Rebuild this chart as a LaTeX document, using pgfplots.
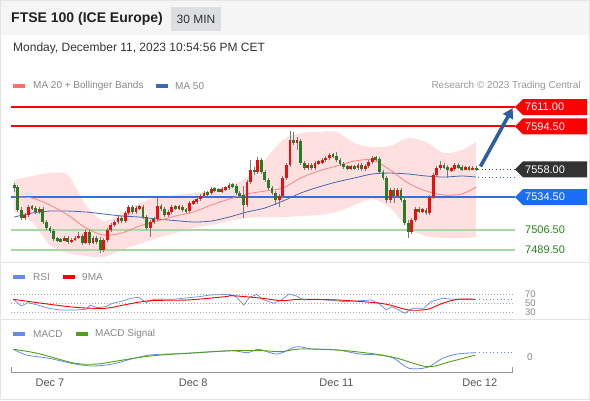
\documentclass[border=0pt]{standalone}
\usepackage{fontspec}
\setmainfont{Liberation Sans}
\usepackage{pgfplots}
\usepackage{pgfplotstable}
\pgfplotsset{compat=1.18}
\usepgfplotslibrary{fillbetween}
\usetikzlibrary{arrows.meta}

\definecolor{hdr}{RGB}{245,245,245}
\definecolor{minbox}{RGB}{221,222,225}
\definecolor{sep}{RGB}{228,228,228}
\definecolor{lvred}{RGB}{255,0,0}
\definecolor{lvblue}{RGB}{50,110,230}
\definecolor{lvgreen}{RGB}{170,215,165}
\definecolor{txtgreen}{RGB}{40,130,30}
\definecolor{tagdark}{RGB}{51,51,51}
\definecolor{tagblue}{RGB}{25,110,245}
\definecolor{bandfill}{RGB}{255,224,224}
\definecolor{ma20}{RGB}{255,130,130}
\definecolor{ma50}{RGB}{65,105,175}
\definecolor{cred}{RGB}{235,15,15}
\definecolor{cgreen}{RGB}{40,125,35}
\definecolor{wick}{RGB}{120,120,120}
\definecolor{arrowblue}{RGB}{45,95,160}
\definecolor{rsiblue}{RGB}{100,140,230}
\definecolor{sigreen}{RGB}{80,160,30}
\definecolor{lgray}{RGB}{136,136,136}
\definecolor{tgray}{RGB}{85,85,85}

\pgfplotstableread{
x o h l c d
-10 7543.9 7546.4 7538.8 7543.0 0
-9 7543.0 7544.7 7521.8 7523.5 0
-8 7523.5 7526.0 7515.0 7516.7 0
-7 7516.7 7520.9 7515.0 7519.2 1
-6 7519.2 7527.7 7517.5 7526.0 1
-5 7526.0 7527.7 7523.5 7525.2 0
-4 7525.2 7526.9 7520.1 7521.8 0
-3 7521.8 7526.0 7520.1 7524.3 1
-2 7524.3 7526.0 7511.6 7513.3 0
-1 7513.3 7515.0 7506.5 7508.2 0
0 7508.2 7509.9 7503.9 7505.6 0
1 7505.6 7507.3 7497.1 7498.8 0
2 7498.8 7500.5 7496.3 7498.0 0
3 7498.0 7499.7 7496.3 7497.5 0
4 7497.5 7501.4 7497.1 7499.7 1
5 7499.7 7501.4 7494.6 7496.3 0
6 7496.3 7499.7 7495.4 7498.0 1
7 7498.0 7501.4 7497.1 7499.7 1
8 7499.7 7504.8 7498.8 7501.4 1
9 7501.4 7503.1 7493.7 7495.4 0
10 7495.4 7506.5 7494.6 7504.8 1
11 7504.8 7506.5 7493.7 7495.4 0
12 7495.4 7501.4 7494.6 7499.7 1
13 7499.7 7501.4 7494.6 7496.3 0
14 7498.0 7500.5 7486.9 7489.5 0
15 7489.5 7499.7 7487.8 7498.0 1
16 7498.0 7508.2 7496.3 7506.5 1
17 7506.5 7512.4 7504.8 7510.7 1
18 7510.7 7515.0 7509.0 7513.3 1
19 7513.3 7518.4 7511.6 7516.7 1
20 7516.7 7518.4 7512.4 7514.1 0
21 7514.1 7522.6 7512.4 7520.9 1
22 7520.9 7527.7 7519.2 7526.0 1
23 7526.0 7527.7 7520.1 7521.8 0
24 7521.8 7526.9 7520.1 7525.2 1
25 7525.2 7527.7 7523.5 7526.0 1
26 7526.0 7527.7 7515.8 7517.5 0
27 7517.5 7519.2 7506.5 7508.2 0
28 7508.2 7515.0 7500.5 7513.3 1
29 7513.3 7517.5 7511.6 7515.8 1
30 7515.8 7533.7 7514.1 7526.9 1
31 7526.9 7528.6 7522.6 7524.3 0
32 7524.3 7526.0 7517.5 7519.2 0
33 7519.2 7523.5 7517.5 7521.8 1
34 7521.8 7527.7 7520.1 7526.0 1
35 7526.0 7527.7 7523.5 7525.2 0
36 7525.2 7527.7 7523.5 7526.0 1
37 7526.0 7527.7 7521.8 7523.5 0
38 7523.5 7525.2 7520.9 7522.6 0
39 7522.6 7531.1 7520.9 7529.4 1
40 7529.4 7532.0 7527.7 7530.3 1
41 7530.3 7534.5 7528.6 7532.8 1
42 7532.8 7537.1 7531.1 7535.4 1
43 7535.4 7539.6 7533.7 7537.9 1
44 7537.9 7539.6 7535.4 7537.5 0
45 7537.9 7543.0 7536.2 7541.3 1
46 7541.3 7543.0 7538.8 7540.5 0
47 7540.5 7542.2 7538.8 7540.0 0
48 7539.6 7543.0 7537.9 7541.3 1
49 7541.3 7543.9 7539.6 7542.2 1
50 7542.2 7546.4 7540.5 7544.7 1
51 7544.7 7546.4 7542.2 7543.9 0
52 7543.9 7545.6 7536.2 7537.9 0
53 7537.9 7539.6 7534.5 7536.2 0
54 7536.2 7543.9 7516.7 7527.7 0
55 7527.7 7549.0 7526.0 7547.3 1
56 7547.3 7566.0 7545.6 7557.5 1
57 7557.5 7560.0 7553.2 7555.8 0
58 7555.8 7568.5 7554.1 7566.0 1
59 7566.0 7567.7 7554.1 7555.8 0
60 7555.8 7557.5 7547.3 7549.0 0
61 7549.0 7550.7 7540.5 7542.2 0
62 7542.2 7543.9 7536.2 7537.9 0
63 7537.9 7539.6 7527.7 7532.0 0
64 7532.0 7537.1 7526.0 7535.4 1
65 7535.4 7552.4 7533.7 7550.7 1
66 7550.7 7563.4 7549.0 7561.7 1
67 7561.7 7590.6 7560.0 7583.0 1
68 7583.0 7589.8 7578.7 7580.4 0
69 7581.3 7585.5 7574.5 7582.1 1
70 7582.1 7583.8 7561.7 7563.4 0
71 7563.4 7565.1 7557.5 7559.2 0
72 7559.2 7563.4 7557.5 7561.7 1
73 7561.7 7563.4 7557.5 7559.2 0
74 7559.2 7565.1 7557.5 7563.4 1
75 7563.4 7566.0 7561.7 7564.3 1
76 7564.3 7567.7 7562.6 7566.0 1
77 7566.0 7569.4 7564.3 7567.7 1
78 7567.7 7571.9 7566.0 7570.2 1
79 7570.2 7571.9 7567.7 7569.8 0
80 7569.8 7572.8 7564.3 7566.0 0
81 7566.0 7567.7 7560.9 7562.6 0
82 7562.6 7564.3 7558.3 7560.0 0
83 7560.0 7561.7 7557.5 7559.2 0
84 7559.2 7561.7 7557.5 7560.0 1
85 7560.0 7561.7 7557.5 7559.6 0
86 7559.2 7563.4 7557.5 7561.7 1
87 7561.7 7563.4 7556.6 7558.3 0
88 7558.3 7562.6 7556.6 7560.9 1
89 7560.9 7566.0 7559.2 7564.3 1
90 7564.3 7569.4 7562.6 7567.7 1
91 7567.7 7569.4 7565.1 7566.8 0
92 7566.8 7568.5 7554.1 7555.8 0
93 7555.8 7557.5 7549.0 7550.7 0
94 7550.7 7552.4 7529.4 7532.0 0
95 7532.0 7542.2 7529.4 7540.5 1
96 7540.5 7542.2 7529.4 7535.4 0
97 7535.4 7542.2 7533.7 7540.5 1
98 7540.5 7542.2 7530.3 7532.0 0
99 7532.0 7534.5 7510.7 7512.4 0
100 7512.4 7515.0 7499.7 7504.8 0
101 7504.8 7516.7 7503.1 7515.0 1
102 7515.0 7526.0 7513.3 7524.3 1
103 7524.3 7526.0 7520.9 7522.6 0
104 7522.6 7525.2 7520.9 7523.5 1
105 7523.5 7525.2 7519.2 7520.9 0
106 7520.9 7536.2 7519.2 7534.5 1
107 7534.5 7554.9 7532.8 7553.2 1
108 7553.2 7560.9 7551.5 7559.2 1
109 7559.2 7565.1 7557.5 7561.7 1
110 7561.7 7563.4 7558.3 7560.0 0
111 7560.0 7561.7 7550.7 7557.5 0
112 7557.5 7560.0 7555.8 7558.3 1
113 7558.3 7563.4 7556.6 7561.7 1
114 7561.7 7563.4 7558.3 7560.0 0
115 7560.0 7561.7 7556.6 7558.3 0
116 7558.3 7560.9 7557.5 7559.2 1
117 7559.2 7560.9 7556.6 7558.3 0
118 7558.3 7560.9 7557.5 7558.7 1
119 7558.7 7560.9 7556.6 7558.0 0
}\candles

\pgfplotstableread{
x up lo ma20 ma50
-10 7549.0 7521.8 7534.5 7517.5
-5 7552.4 7513.3 7533.7 7520.9
0 7554.9 7493.7 7527.7 7522.6
5 7553.2 7486.9 7519.2 7522.6
10 7527.7 7484.4 7508.2 7521.8
15 7514.1 7483.5 7502.2 7520.1
20 7520.9 7489.5 7503.9 7518.4
25 7529.4 7494.6 7509.9 7517.5
30 7534.5 7499.7 7514.1 7515.8
35 7536.2 7503.9 7518.4 7514.5
40 7537.9 7508.2 7521.8 7513.3
45 7539.6 7510.7 7527.7 7514.1
50 7544.7 7514.1 7532.8 7517.5
55 7550.7 7516.7 7537.1 7521.8
60 7566.0 7517.5 7539.6 7525.2
65 7583.0 7517.5 7542.2 7531.1
70 7588.9 7518.4 7550.7 7537.9
75 7589.8 7519.2 7556.6 7543.0
80 7589.8 7521.8 7560.9 7547.3
85 7580.4 7527.7 7565.1 7550.7
90 7577.0 7532.8 7566.0 7554.1
95 7577.9 7525.2 7557.5 7554.9
100 7584.7 7508.2 7546.4 7554.1
105 7581.3 7501.4 7539.6 7552.4
110 7571.9 7499.7 7536.2 7551.5
115 7574.5 7499.7 7537.1 7552.4
119 7581.3 7500.5 7543.0 7551.5
}\bands

\pgfplotstableread{
x rsi
-10.2 58.4
-8.1 43.8
-6.1 51
-3.5 46
-0.3 38.7
2.8 35
7 35
10.2 36.6
11.2 46
13.3 40
15.4 42.2
17.5 49.7
20.6 55.4
22.7 60.6
24.8 62.8
26.9 51
29 58.4
34.2 58.4
41.6 64.1
44.7 67.8
49.9 69.3
52 64.1
54.1 46
55.7 62.8
57.8 69.3
59.3 58.4
62.5 49.7
64.6 56.9
66.7 70
68.8 65.6
70.9 56.9
75.1 58.4
82.4 53.2
89.7 56.9
91.8 49.7
93.9 35
95.4 42.2
97 36.6
99.1 27.8
101.2 38.7
104.4 38.7
106.4 53.2
109.6 60.6
112.7 58.4
118.8 58.4
}\rsi

\pgfplotstableread{
x ma
-10.2 58.4
-3.5 51
7 40.9
15.4 38.7
20.6 46
27.9 55.4
38.4 56.9
48.9 64.1
51 66.3
59.3 60.6
64.6 55.4
69.8 58.4
80.3 56.9
90.7 51
94.9 46
100.2 35
105.4 36.6
109.6 49.7
113.8 58.4
118.8 58.4
}\rsima

\pgfplotstableread{
x macd
-10.2 3.85
-6.6 1
-0.3 -0.65
7 -3.5
12.2 -4.5
17.5 -3.5
22.7 -1
27.9 1
33.2 1.5
38.4 1.85
43.6 2.5
51 3.15
55.1 2.15
58.3 3.85
63.5 1.5
68.8 5.15
73 4
80.3 3.5
86.5 1.5
91.8 1
96 -0.65
100.2 -5.65
105.4 -5.15
109.6 -0.65
113.8 1.5
118.8 2.15
}\macd

\pgfplotstableread{
x sig
-10.2 3.85
-3.5 1.85
7 -3.15
13.3 -3.5
17.5 -2.35
27.9 0.5
38.4 1.85
51 3.15
59.3 3.15
64.6 2.65
69.8 4
80.3 3.5
90.7 1.5
97 -0.65
105.4 -4.85
111.7 -2.35
118.8 1
}\signal

\newcommand{\pricetag}[4]{%
  \fill[#2] (axis cs:129.84,#1) -- ++(8pt,8pt) -- ++(64pt,0pt) -- ++(0pt,-16pt) -- ++(-64pt,0pt) -- cycle;
  \node[anchor=west, inner sep=0pt, xshift=10pt, text=#3, font=\fontsize{11}{13}\selectfont] at (axis cs:129.84,#1) {#4};}

\pgfplotsset{
  panel/.style={scale only axis, width=504pt, xmin=-10.88, xmax=129.84, clip=false},
  nomark/.style={only marks, mark=*, mark size=0pt, mark options={draw=none, fill=none}},
}

\begin{document}
\begin{tikzpicture}[x=1pt,y=1pt]
\fill[white] (0,0) rectangle (590,400);
\fill[hdr] (0,365) rectangle (590,400);
\draw[sep, line width=1pt] (0.5,0.5) rectangle (589.5,399.5);
\fill[minbox] (171,369) rectangle (221,393);
\node[anchor=west, inner sep=0pt, font=\bfseries\fontsize{14}{16}\selectfont, text=black!87] at (11,381) {FTSE 100 (ICE Europe)};
\node[inner sep=0pt, font=\fontsize{12}{14}\selectfont, text=black!80] at (196,381) {30 MIN};
\node[anchor=west, inner sep=0pt, font=\fontsize{12}{14}\selectfont, text=black!80] at (13,352) {Monday, December 11, 2023 10:54:56 PM CET};
% legends
\fill[ma20!85!red] (13,312) rectangle (25,316);
\node[anchor=west, inner sep=0pt, font=\fontsize{10}{12}\selectfont, text=lgray] at (33,314) {MA 20 + Bollinger Bands};
\fill[ma50] (156,312) rectangle (168,316);
\node[anchor=west, inner sep=0pt, font=\fontsize{10}{12}\selectfont, text=lgray] at (175,314) {MA 50};
\node[anchor=east, inner sep=0pt, font=\fontsize{10}{12}\selectfont, text=black!40] at (581,314) {Research © 2023 Trading Central};
\draw[sep, line width=1pt] (0,138) -- (590,138);
\draw[sep, line width=1pt] (0,81) -- (590,81);
\fill[rsiblue] (13,121) rectangle (25,125);
\node[anchor=west, inner sep=0pt, font=\fontsize{10}{12}\selectfont, text=lgray] at (33,123) {RSI};
\fill[lvred] (63,121) rectangle (75,125);
\node[anchor=west, inner sep=0pt, font=\fontsize{10}{12}\selectfont, text=lgray] at (82,123) {9MA};
\fill[rsiblue] (13,64) rectangle (25,68);
\node[anchor=west, inner sep=0pt, font=\fontsize{10}{12}\selectfont, text=lgray] at (33,66) {MACD};
\fill[sigreen] (76,64) rectangle (88,68);
\node[anchor=west, inner sep=0pt, font=\fontsize{10}{12}\selectfont, text=lgray] at (95,66) {MACD Signal};
% bottom axis line
\draw[black!40, line width=0.8pt] (11,33) -- (11,28) -- (512,28) -- (512,33);

% ---------- price panel
\begin{axis}[panel, at={(11pt,140pt)}, anchor=south west, height=160pt,
  ymin=7481, ymax=7617, hide axis]
\addplot[name path=up, draw=none, smooth, forget plot] table[x=x, y=up] {\bands};
\addplot[name path=lo, draw=none, smooth, forget plot] table[x=x, y=lo] {\bands};
\addplot[bandfill, forget plot] fill between[of=up and lo, on layer=main];
\addplot[lvred, line width=2pt] coordinates {(-10.88,7611) (129.84,7611)};
\addplot[lvred, line width=2pt] coordinates {(-10.88,7594.5) (129.84,7594.5)};
\addplot[lvblue, line width=1.2pt] coordinates {(-10.88,7534.5) (129.84,7534.5)};
\addplot[lvgreen, line width=1.5pt] coordinates {(-10.88,7506.5) (129.84,7506.5)};
\addplot[lvgreen, line width=1.5pt] coordinates {(-10.88,7489.5) (129.84,7489.5)};
\addplot[ma50, line width=0.8pt, smooth] table[x=x, y=ma50] {\bands};
\addplot[ma20, line width=0.8pt, smooth] table[x=x, y=ma20] {\bands};
% wicks
\addplot[nomark, error bars/.cd, y dir=both, y explicit, error mark=none,
  error bar style={draw=wick, line width=0.6pt}]
  table[x=x, y expr=(\thisrow{h}+\thisrow{l})/2, y error expr=(\thisrow{h}-\thisrow{l})/2] {\candles};
% up bodies (red)
\addplot[nomark, restrict expr to domain={\thisrow{d}}{0.5:1.5},
  error bars/.cd, y dir=both, y explicit, error mark=none,
  error bar style={draw=cred, line width=2.8pt}]
  table[x=x, y expr=(\thisrow{o}+\thisrow{c})/2, y error expr={max(abs(\thisrow{o}-\thisrow{c})/2,1.2)}] {\candles};
% down bodies (green)
\addplot[nomark, restrict expr to domain={\thisrow{d}}{-0.5:0.5},
  error bars/.cd, y dir=both, y explicit, error mark=none,
  error bar style={draw=cgreen, line width=2.8pt}]
  table[x=x, y expr=(\thisrow{o}+\thisrow{c})/2, y error expr={max(abs(\thisrow{o}-\thisrow{c})/2,1.2)}] {\candles};
\addplot[black!70, line width=0.8pt, dash pattern=on 1pt off 2.6pt] coordinates {(119.5,7558) (129.84,7558)};
\addplot[ma50, line width=0.8pt, dash pattern=on 1pt off 2.6pt] coordinates {(119.5,7551.5) (129.84,7551.5)};
\draw[arrowblue, line width=3.6pt, -{Triangle[length=10pt,width=11pt]}] (axis cs:120.2,7560.5) -- (axis cs:129.2,7610.2);
\pricetag{7611}{lvred}{white}{7611.00}
\pricetag{7594.5}{lvred}{white}{7594.50}
\pricetag{7558}{tagdark}{white}{7558.00}
\pricetag{7534.5}{tagblue}{white}{7534.50}
\node[anchor=west, inner sep=0pt, xshift=10pt, text=txtgreen, font=\fontsize{11}{13}\selectfont] at (axis cs:129.84,7506.5) {7506.50};
\node[anchor=west, inner sep=0pt, xshift=10pt, text=txtgreen, font=\fontsize{11}{13}\selectfont] at (axis cs:129.84,7489.5) {7489.50};
\end{axis}

% ---------- RSI panel
\begin{axis}[panel, at={(11pt,81pt)}, anchor=south west, height=57pt,
  ymin=15.36, ymax=139.9, axis x line=none, axis y line*=right,
  y axis line style={draw=none}, ytick={30,50,70}, yticklabels={30,50,70},
  major tick length=0pt,
  yticklabel style={anchor=west, inner sep=0pt, xshift=10pt, font=\fontsize{9.5}{11}\selectfont, text=lgray}]
\addplot[black!35, line width=0.6pt, dash pattern=on 1pt off 2pt] coordinates {(-10.88,70) (129.84,70)};
\addplot[black!35, line width=0.6pt, dash pattern=on 1pt off 2pt] coordinates {(-10.88,50) (129.84,50)};
\addplot[black!35, line width=0.6pt, dash pattern=on 1pt off 2pt] coordinates {(-10.88,30) (129.84,30)};
\addplot[rsiblue, line width=0.7pt] table[x=x, y=rsi] {\rsi};
\addplot[lvred, line width=0.9pt, smooth] table[x=x, y=ma] {\rsima};
\addplot[rsiblue, line width=0.8pt, dash pattern=on 1pt off 2.6pt] coordinates {(118.8,58.4) (129.84,58.4)};
\end{axis}

% ---------- MACD panel
\begin{axis}[panel, at={(11pt,29pt)}, anchor=south west, height=52pt,
  ymin=-7, ymax=19, axis x line*=bottom, x axis line style={draw=none},
  axis y line*=right, y axis line style={draw=none},
  xtick={0,40,80,120}, xticklabels={Dec 7,Dec 8,Dec 11,Dec 12},
  ytick={0}, yticklabels={0}, major tick length=0pt,
  xticklabel style={anchor=center, yshift=-12pt, font=\fontsize{11}{13}\selectfont, text=tgray},
  yticklabel style={anchor=west, inner sep=0pt, xshift=12pt, font=\fontsize{10}{12}\selectfont, text=lgray}]
\addplot[rsiblue, line width=0.8pt, smooth] table[x=x, y=macd] {\macd};
\addplot[sigreen, line width=0.9pt, smooth] table[x=x, y=sig] {\signal};
\addplot[rsiblue, line width=0.8pt, dash pattern=on 1pt off 2.6pt] coordinates {(118.8,2.15) (129.84,2.15)};
\end{axis}
\pgfresetboundingbox
\path[use as bounding box] (0,0) rectangle (590,400);
\end{tikzpicture}
\end{document}
